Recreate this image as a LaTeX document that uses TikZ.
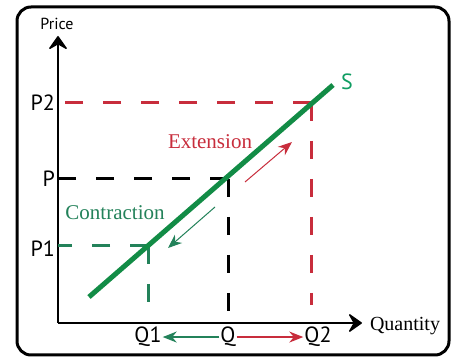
\documentclass[tikz,border=0pt]{standalone}
\usepackage{fontspec}
\setmainfont{Liberation Serif}
\setsansfont{PT Sans}
\usetikzlibrary{arrows.meta, positioning}
\definecolor{supgreen}{RGB}{18,140,70}
\definecolor{extred}{RGB}{200,45,60}
\definecolor{contgreen}{RGB}{35,130,90}

\begin{document}
\begin{tikzpicture}[x=1pt, y=-1pt, >=Stealth,
  lvl/.style={font=\sffamily\fontsize{22}{22}\selectfont, inner sep=1pt},
  word/.style={font=\fontsize{21}{21}\selectfont, inner sep=0pt},
  ax/.style={line width=1.4pt, -{Stealth[length=15pt, width=21pt, inset=6pt, round]}},
  guide/.style={line width=3pt, dash pattern=on 18pt off 20pt},
  mv/.style={line width=1.3pt, -{Stealth[length=14pt, width=11pt]}}]
\useasboundingbox[fill=white] (0,0) rectangle (451,358);
\draw[line width=3pt, rounded corners=14pt] (17,7) rectangle (449,355);
% axes
\coordinate (O) at (58,323);
\coordinate (ytip) at (58,36);
\coordinate (xtip) at (362,323);
\draw[ax] (O) -- (ytip);
\draw[ax] (O) -- (xtip);
\node[font=\sffamily\fontsize{16}{16}\selectfont, inner sep=0pt] (price) at (57,24) {Price};
\node[word, font=\fontsize{20}{20}\selectfont] (qty) at (405,326) {Quantity};
% supply curve and the three points on it
\coordinate (sA) at (89,297);
\coordinate (sB) at (333,85);
\coordinate (E) at (228,179);
\coordinate (E1) at (148,246);
\coordinate (E2) at (311,103);
% dashed guides: price level to the axis, quantity down to the axis
\foreach \pt/\col/\stop in {E/black/0, E1/contgreen/4, E2/extred/18} {
    \draw[guide, \col] (\pt) -- (O |- \pt);
    \draw[guide, \col] (\pt) -- ([yshift=\stop pt]\pt |- O);
}
\draw[line width=5pt, supgreen] (sA) -- (sB);
\node[font=\sffamily\fontsize{22}{22}\selectfont, text=supgreen!85!cyan, inner sep=0pt] (S) at (347,82) {S};
% price labels
\path (O |- E2) node[lvl, left=2pt] (lblP2) {P2};
\path (O |- E) node[lvl, left=2pt] (lblP) {P};
\path (O |- E1) node[lvl, left=2pt, yshift=-3pt] (lblP1) {P1};
% quantity labels
\path (E1 |- O) node[lvl, below=3pt] (lblQ1) {Q1};
\path (E |- O) node[lvl, below=3pt] (lblQ) {Q};
\path (E2 |- O) node[lvl, below=3pt, xshift=7pt] (lblQ2) {Q2};
\draw[mv, contgreen] (lblQ.west) -- (lblQ1.east);
\draw[mv, extred] (lblQ.east) -- (lblQ2.west);
% movements along the curve
\node[word, text=extred] (ext) at (210,142) {Extension};
\node[word, text=contgreen] (cont) at (115,213) {Contraction};
\coordinate (extA) at (245,182);
\coordinate (extB) at (292,142);
\coordinate (contA) at (215,207);
\coordinate (contB) at (168,248);
\draw[mv, extred, line width=1pt] (extA) -- (extB);
\draw[mv, contgreen, line width=1pt] (contA) -- (contB);
\end{tikzpicture}
\end{document}
